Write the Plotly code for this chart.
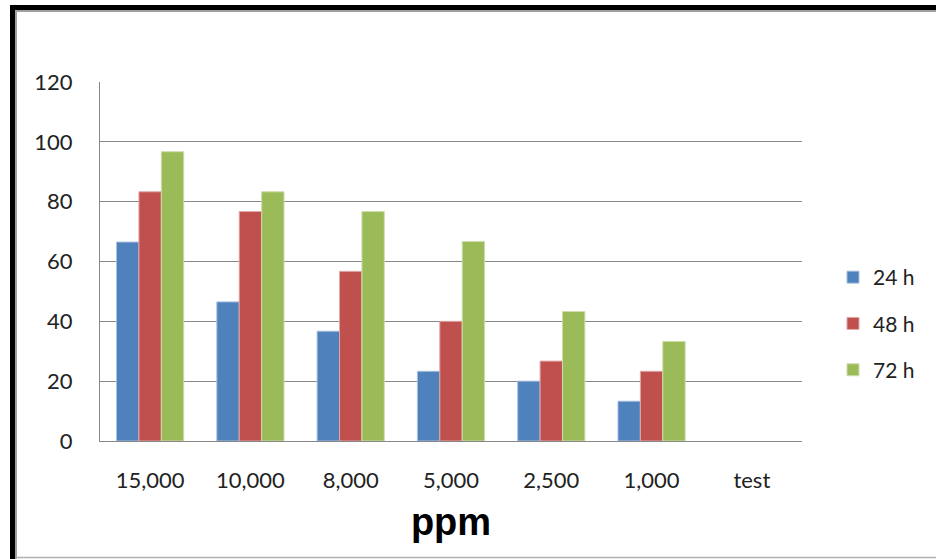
import plotly.graph_objects as go

categories = ["15,000", "10,000", "8,000", "5,000", "2,500", "1,000", "test"]
series_names = ["24 h", "48 h", "72 h"]
values_24h = [66.5, 46.5, 36.7, 23.3, 20.0, 13.3, None]
values_48h = [83.3, 76.7, 56.7, 40.0, 26.7, 23.3, None]
values_72h = [96.7, 83.3, 76.7, 66.7, 43.3, 33.3, None]
colors = ["#4F81BD", "#C0504D", "#9BBB59"]
edge_colors = ["#A7C0DE", "#DFA7A6", "#CDDDAC"]
y_ticks = [0, 20, 40, 60, 80, 100, 120]

W, H = 936, 559
L, R, T, B = 100, 134, 82, 118
pw, ph = W - L - R, H - T - B

def px(x):
    return (x - L) / pw

def py(y):
    return (H - B - y) / ph

fig = go.Figure()
for name, vals, c, ec in zip(series_names, [values_24h, values_48h, values_72h], colors, edge_colors):
    fig.add_trace(go.Bar(x=categories, y=vals, name=name, legendgroup=name,
                         marker=dict(color=c, line=dict(color=ec, width=1))))

font = "Lato, 'Open Sans', sans-serif"
shapes = [
    dict(type="line", xref="paper", yref="paper", x0=px(10), x1=px(936), y0=py(7.5), y1=py(7.5),
         line=dict(color="black", width=5)),
    dict(type="line", xref="paper", yref="paper", x0=px(15), x1=px(936), y0=py(11), y1=py(11),
         line=dict(color="#A0A0A0", width=2)),
    dict(type="line", xref="paper", yref="paper", x0=px(12.5), x1=px(12.5), y0=py(5), y1=py(559),
         line=dict(color="black", width=5)),
    dict(type="line", xref="paper", yref="paper", x0=px(16), x1=px(16), y0=py(11), y1=py(559),
         line=dict(color="#A0A0A0", width=2)),
    dict(type="line", xref="paper", yref="paper", x0=px(16), x1=px(936), y0=py(557.5), y1=py(557.5),
         line=dict(color="#B0B0B0", width=1.5)),
]

fig.update_layout(
    width=W, height=H,
    margin=dict(l=L, r=R, t=T, b=B),
    paper_bgcolor="white", plot_bgcolor="white",
    barmode="group", bargap=0.33, bargroupgap=0,
    font=dict(family=font, size=21, color="#222222"),
    showlegend=True,
    legend=dict(x=px(833), y=py(257), xanchor="left", yanchor="top",
                font=dict(size=21, color="#222222"), tracegroupgap=16,
                bgcolor="rgba(0,0,0,0)"),
    shapes=shapes,
    xaxis=dict(showline=True, linecolor="#888888", linewidth=1.2, ticks="",
               tickfont=dict(size=22), ticklabelstandoff=19,
               title=dict(text="<b>ppm</b>", font=dict(family="Arial, 'Liberation Sans', sans-serif",
                                                      size=38, color="black"), standoff=16)),
    yaxis=dict(range=[0, 120], tickvals=y_ticks, showline=True, linecolor="#888888", linewidth=1.2,
               showgrid=True, gridcolor="#888888", gridwidth=1.2, ticks="",
               tickfont=dict(size=22), ticklabelstandoff=22, zeroline=False),
)

fig.write_html("out.html")
